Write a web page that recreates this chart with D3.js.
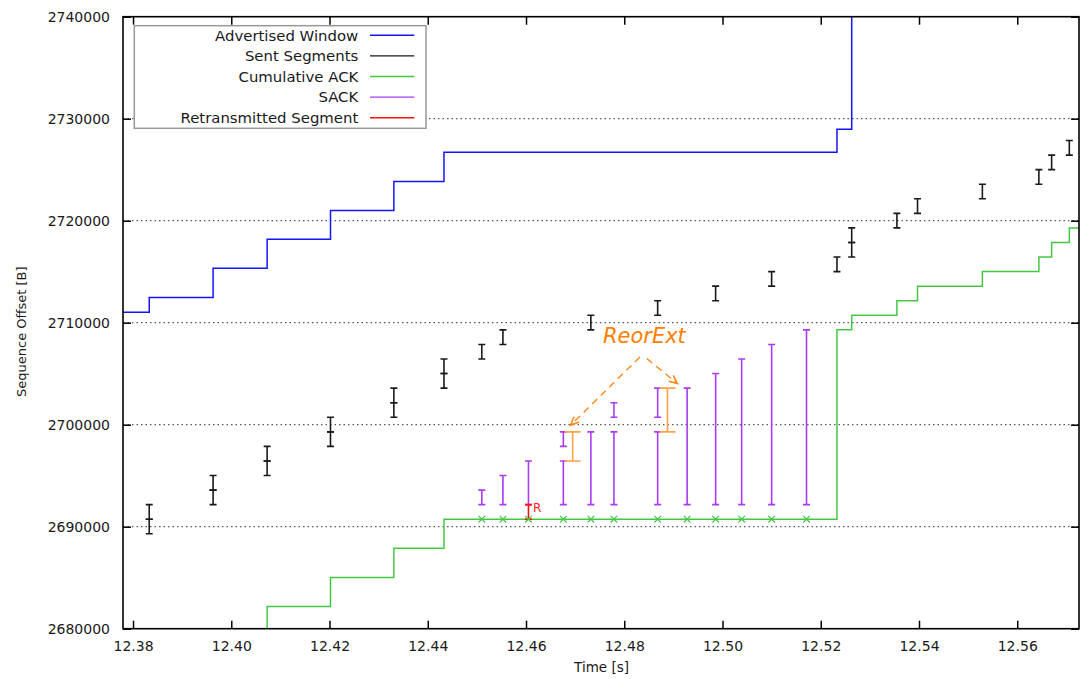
<!DOCTYPE html>
<html>
<head>
<meta charset="utf-8">
<script src="https://cdn.jsdelivr.net/npm/d3@7"></script>
<style>
  html, body { margin: 0; padding: 0; background: #fff; }
  svg { display: block; font-family: "DejaVu Sans", sans-serif; }
</style>
</head>
<body>
<svg id="chart" width="1082" height="679"></svg>
<script>
// Axis ticks
const timeTicks = [12.38, 12.40, 12.42, 12.44, 12.46, 12.48, 12.50, 12.52, 12.54, 12.56];
const seqTicks = [2680000, 2690000, 2700000, 2710000, 2720000, 2730000, 2740000];

// Advertised window (right edge of the receive window), step function
const awndTime = [12.3780, 12.3833, 12.3963, 12.4073, 12.4202, 12.4331, 12.4433, 12.5233, 12.5263, 12.5726];
const awndSeq  = [2711036, 2712473, 2715337, 2718172, 2721007, 2723842, 2726716, 2728964, 2742000, 2742000];

// Sent segments: send time, first byte, last byte
const sentTime  = [12.3833, 12.3833, 12.3963, 12.3963, 12.4073, 12.4073, 12.4202, 12.4202, 12.4331, 12.4331,
                   12.4433, 12.4433, 12.4510, 12.4553, 12.4732, 12.4868, 12.4986, 12.5100, 12.5233, 12.5263,
                   12.5263, 12.5355, 12.5397, 12.5529, 12.5644, 12.5670, 12.5706];
const sentStart = [2689305, 2690733, 2692161, 2693589, 2695017, 2696445, 2697873, 2699301, 2700729, 2702157,
                   2703585, 2705013, 2706441, 2707869, 2709297, 2710725, 2712153, 2713581, 2715009, 2716437,
                   2717865, 2719293, 2720721, 2722149, 2723577, 2725005, 2726433];
const sentEnd   = [2690733, 2692161, 2693589, 2695017, 2696445, 2697873, 2699301, 2700729, 2702157, 2703585,
                   2705013, 2706441, 2707869, 2709297, 2710725, 2712153, 2713581, 2715009, 2716437, 2717865,
                   2719293, 2720721, 2722149, 2723577, 2725005, 2726433, 2727861];

// Cumulative ACK, step function
const ackTime = [12.3780, 12.4073, 12.4202, 12.4331, 12.4433, 12.5233, 12.5263, 12.5355, 12.5397, 12.5529, 12.5644, 12.5670, 12.5706, 12.5726];
const ackSeq  = [2679309, 2682165, 2685021, 2687877, 2690733, 2709297, 2710725, 2712153, 2713581, 2715009, 2716437, 2717865, 2719293, 2719293];

// Duplicate ACKs
const dupAckTime = [12.4510, 12.4553, 12.4605, 12.4676, 12.4732, 12.4779, 12.4868, 12.4928, 12.4986, 12.5039, 12.5100, 12.5171];
const dupAckSeq  = [2690733, 2690733, 2690733, 2690733, 2690733, 2690733, 2690733, 2690733, 2690733, 2690733, 2690733, 2690733];

// SACK blocks carried by the duplicate ACKs
const sackTime  = [12.4510, 12.4553, 12.4605, 12.4676, 12.4676, 12.4732, 12.4779, 12.4779, 12.4868, 12.4868,
                   12.4928, 12.4986, 12.5039, 12.5100, 12.5171];
const sackStart = [2692161, 2692161, 2692161, 2692161, 2697873, 2692161, 2692161, 2700729, 2692161, 2700729,
                   2692161, 2692161, 2692161, 2692161, 2692161];
const sackEnd   = [2693589, 2695017, 2696445, 2696445, 2699301, 2699301, 2699301, 2702157, 2699301, 2703585,
                   2703585, 2705013, 2706441, 2707869, 2709297];

// Retransmitted segment
const retxTime = [12.4605];
const retxStart = [2690733];
const retxEnd = [2692161];

// Reordering extent
const reorTime  = [12.4695, 12.4888];
const reorStart = [2696445, 2699301];
const reorEnd   = [2699301, 2703585];

// Annotation arrows: from (t0, s0) to (t1, s1)
const arrowT0 = [12.4832, 12.4846];
const arrowS0 = [2706637, 2706481];
const arrowT1 = [12.4691, 12.4908];
const arrowS1 = [2699961, 2704037];
const reorLabelTime = 12.4841, reorLabelSeq = 2707977;

const legendNames  = ["Advertised Window", "Sent Segments", "Cumulative ACK", "SACK", "Retransmitted Segment"];
const legendColors = ["#1414ff", "#1a1a1a", "#44c844", "#a83cf0", "#ff1010"];

const W = 1082, H = 679;
const plot = { left: 123, right: 1079, top: 16.7, bottom: 628.7 };

const svg = d3.select("#chart");
const x = d3.scaleLinear().domain([12.37796, 12.57257]).range([plot.left, plot.right]);
const y = d3.scaleLinear().domain([2680000, 2740000]).range([plot.bottom, plot.top]);

svg.append("defs").append("clipPath").attr("id", "clip")
  .append("rect")
  .attr("x", plot.left).attr("y", plot.top)
  .attr("width", plot.right - plot.left).attr("height", plot.bottom - plot.top);

// Horizontal dotted grid
svg.append("g").selectAll("line")
  .data(seqTicks.slice(1, -1))
  .join("line")
  .attr("x1", plot.left).attr("x2", plot.right)
  .attr("y1", d => y(d)).attr("y2", d => y(d))
  .attr("stroke", "#333").attr("stroke-width", 1)
  .attr("stroke-dasharray", "1.5,3");

const body = svg.append("g").attr("clip-path", "url(#clip)");

// Advertised window
body.append("path")
  .datum(awndTime.map((t, i) => [t, awndSeq[i]]))
  .attr("fill", "none").attr("stroke", legendColors[0]).attr("stroke-width", 1.5)
  .attr("d", d3.line().x(d => x(d[0])).y(d => y(d[1])).curve(d3.curveStepAfter));

// Error-bar helper: vertical bar with end caps
function errorBars(g, times, starts, ends, color, capHalf, width) {
  const data = times.map((t, i) => ({ t, s: starts[i], e: ends[i] }));
  const grp = g.append("g").attr("stroke", color).attr("stroke-width", width).attr("fill", "none");
  grp.selectAll("path").data(data).join("path")
    .attr("d", d => {
      const cx = x(d.t), y0 = y(d.s), y1 = y(d.e);
      return `M${cx},${y0}V${y1}M${cx - capHalf},${y0}H${cx + capHalf}M${cx - capHalf},${y1}H${cx + capHalf}`;
    });
  return grp;
}

// Sent segments
errorBars(body, sentTime, sentStart, sentEnd, legendColors[1], 3.5, 1.6);

// Cumulative ACK
body.append("path")
  .datum(ackTime.map((t, i) => [t, ackSeq[i]]))
  .attr("fill", "none").attr("stroke", legendColors[2]).attr("stroke-width", 1.5)
  .attr("d", d3.line().x(d => x(d[0])).y(d => y(d[1])).curve(d3.curveStepAfter));

// SACK blocks
errorBars(body, sackTime, sackStart, sackEnd, legendColors[3], 3.5, 1.6);

// Retransmission
errorBars(body, retxTime, retxStart, retxEnd, legendColors[4], 3.5, 1.6);
body.append("text")
  .attr("x", x(retxTime[0]) + 4.5).attr("y", y(retxEnd[0]) + 7.5)
  .attr("font-size", 12).attr("fill", "#ff2020").text("R");

// Duplicate ACK crosses
body.append("g").attr("stroke", legendColors[2]).attr("stroke-width", 1.2)
  .selectAll("path").data(dupAckTime.map((t, i) => [t, dupAckSeq[i]])).join("path")
  .attr("d", d => {
    const cx = x(d[0]), cy = y(d[1]), r = 3.3;
    return `M${cx - r},${cy - r}L${cx + r},${cy + r}M${cx - r},${cy + r}L${cx + r},${cy - r}`;
  });

// Reordering extent bars
errorBars(body, reorTime, reorStart, reorEnd, "#ffa347", 8, 1.6);

// Annotation arrows
const arrowG = body.append("g").attr("stroke", "#ff8a1c").attr("stroke-width", 1.4).attr("fill", "none");
arrowT0.forEach((t0, i) => {
  const x0 = x(t0), y0 = y(arrowS0[i]), x1 = x(arrowT1[i]), y1 = y(arrowS1[i]);
  arrowG.append("line").attr("x1", x0).attr("y1", y0).attr("x2", x1).attr("y2", y1)
    .attr("stroke-dasharray", "7,5");
  const ang = Math.atan2(y1 - y0, x1 - x0), L = 9, spread = 0.42;
  const ax = x1 - L * Math.cos(ang - spread), ay = y1 - L * Math.sin(ang - spread);
  const bx = x1 - L * Math.cos(ang + spread), by = y1 - L * Math.sin(ang + spread);
  arrowG.append("path").attr("d", `M${ax},${ay}L${x1},${y1}L${bx},${by}`).attr("stroke-width", 1.6);
});

body.append("text")
  .attr("x", x(reorLabelTime)).attr("y", y(reorLabelSeq))
  .attr("text-anchor", "middle").attr("font-size", 21).attr("font-style", "italic")
  .attr("fill", "#ff8000").text("ReorExt");

// Axes (ticks pointing inward, mirrored on top and right)
const axB = svg.append("g").attr("transform", `translate(0,${plot.bottom})`)
  .call(d3.axisBottom(x).tickValues(timeTicks).tickFormat(d3.format(".2f")).tickSize(-8).tickPadding(12));
const axT = svg.append("g").attr("transform", `translate(0,${plot.top})`)
  .call(d3.axisTop(x).tickValues(timeTicks).tickFormat("").tickSize(-8));
const axL = svg.append("g").attr("transform", `translate(${plot.left},0)`)
  .call(d3.axisLeft(y).tickValues(seqTicks).tickFormat(d3.format("d")).tickSize(-8).tickPadding(13));
const axR = svg.append("g").attr("transform", `translate(${plot.right},0)`)
  .call(d3.axisRight(y).tickValues(seqTicks).tickFormat("").tickSize(-8));
[axB, axT, axL, axR].forEach(a => {
  a.select(".domain").remove();
  a.selectAll(".tick line").attr("stroke", "#000").attr("stroke-width", 1.5);
  a.selectAll(".tick text").attr("font-size", 14).attr("fill", "#1a1a1a")
    .attr("font-family", "'DejaVu Sans', sans-serif");
});

// Frame
svg.append("rect")
  .attr("x", plot.left).attr("y", plot.top)
  .attr("width", plot.right - plot.left).attr("height", plot.bottom - plot.top)
  .attr("fill", "none").attr("stroke", "#000").attr("stroke-width", 1.6);

// Axis titles
svg.append("text")
  .attr("x", (plot.left + plot.right) / 2 + 0.5).attr("y", 672)
  .attr("text-anchor", "middle").attr("font-size", 13.5).attr("fill", "#1a1a1a")
  .text("Time [s]");
svg.append("text")
  .attr("transform", `translate(26,${(plot.top + plot.bottom) / 2 + 9}) rotate(-90)`)
  .attr("text-anchor", "middle").attr("font-size", 13).attr("fill", "#1a1a1a")
  .text("Sequence Offset [B]");

// Legend
const leg = svg.append("g");
leg.append("rect")
  .attr("x", 134.3).attr("y", 25.7).attr("width", 291.7).attr("height", 102.6)
  .attr("fill", "#fff").attr("stroke", "#999").attr("stroke-width", 1.5);
legendNames.forEach((name, i) => {
  const cy = 35.3 + i * 20.6;
  leg.append("text")
    .attr("x", 358.3).attr("y", cy).attr("dy", "0.36em")
    .attr("text-anchor", "end").attr("font-size", 14.9).attr("fill", "#1a1a1a")
    .text(name);
  leg.append("line")
    .attr("x1", 370).attr("x2", 414.3).attr("y1", cy).attr("y2", cy)
    .attr("stroke", legendColors[i]).attr("stroke-width", 1.4);
});
</script>
</body>
</html>
